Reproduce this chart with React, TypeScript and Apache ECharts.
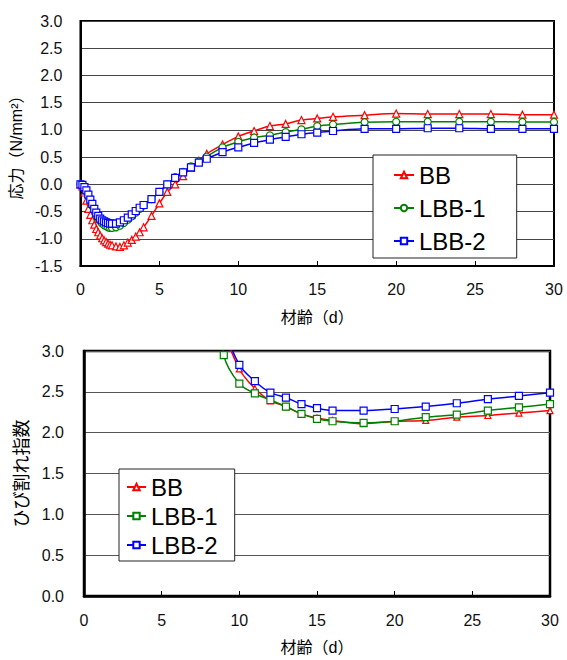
import React, { useEffect, useRef } from "react";
import * as echarts from "echarts";

// ---- Top chart: stress (応力) vs age ----
const ageStress = [
  0, 0.125, 0.25, 0.375, 0.5, 0.625, 0.75, 0.875, 1, 1.125, 1.25, 1.375, 1.5, 1.625, 1.75, 1.875, 2,
  2.25, 2.5, 2.75, 3, 3.25, 3.5, 3.75, 4,
  4.5, 5, 5.5, 6, 6.5, 7, 7.5, 8,
  9, 10, 11, 12, 13, 14, 15, 16,
  18, 20, 22, 24, 26, 28, 30,
];
const bbStress = [
  0, -0.04, -0.15, -0.3, -0.45, -0.56, -0.66, -0.74, -0.82, -0.88, -0.94, -0.99, -1.03, -1.06, -1.09, -1.11, -1.12,
  -1.14, -1.15, -1.12, -1.07, -1.02, -0.96, -0.88, -0.79,
  -0.58, -0.35, -0.14, 0.0, 0.15, 0.3, 0.43, 0.56,
  0.73, 0.88, 0.98, 1.07, 1.11, 1.18, 1.21, 1.24,
  1.27, 1.3, 1.29, 1.29, 1.29, 1.28, 1.28,
];
const lbb1Stress = [
  0, -0.01, -0.06, -0.13, -0.22, -0.31, -0.4, -0.49, -0.57, -0.63, -0.68, -0.72, -0.75, -0.77, -0.79, -0.8, -0.8,
  -0.79, -0.76, -0.71, -0.65, -0.59, -0.52, -0.45, -0.39,
  -0.27, -0.14, 0.0, 0.13, 0.23, 0.33, 0.42, 0.51,
  0.68, 0.78, 0.86, 0.9, 0.96, 1.01, 1.07, 1.1,
  1.14, 1.15, 1.15, 1.15, 1.15, 1.145, 1.145,
];
const lbb2Stress = [
  0, -0.01, -0.05, -0.11, -0.19, -0.28, -0.36, -0.45, -0.52, -0.58, -0.63, -0.66, -0.68, -0.7, -0.71, -0.72, -0.72,
  -0.72, -0.7, -0.66, -0.61, -0.55, -0.49, -0.43, -0.38,
  -0.27, -0.14, 0.0, 0.12, 0.22, 0.31, 0.4, 0.47,
  0.59, 0.68, 0.76, 0.82, 0.87, 0.92, 0.95, 0.98,
  1.02, 1.02, 1.03, 1.03, 1.02, 1.02, 1.02,
];

// ---- Bottom chart: cracking index (ひび割れ指数) vs age ----
const ageCrack = [8, 9, 10, 11, 12, 13, 14, 15, 16, 18, 20, 22, 24, 26, 28, 30];
const bbCrack = [5.5, 3.3, 2.78, 2.54, 2.39, 2.32, 2.23, 2.18, 2.15, 2.11, 2.14, 2.15, 2.19, 2.21, 2.24, 2.27];
const lbb1Crack = [4.5, 2.95, 2.6, 2.48, 2.4, 2.32, 2.23, 2.17, 2.14, 2.12, 2.14, 2.19, 2.22, 2.27, 2.31, 2.35];
const lbb2Crack = [5.5, 3.35, 2.83, 2.63, 2.49, 2.43, 2.35, 2.3, 2.27, 2.27, 2.29, 2.32, 2.36, 2.41, 2.45, 2.49];

const seriesNames = ["BB", "LBB-1", "LBB-2"];
const xTitle = "材齢（d）";
const yTitleTop = "応力（N/mm²）";
const yTitleBottom = "ひび割れ指数";

const FONT = '"Liberation Sans", "Noto Sans CJK JP", sans-serif';
const RED = "#ff0000";
const GREEN = "#008000";
const BLUE = "#0000ff";

function mkSeries(name: string, xs: number[], ys: number[], color: string, symbol: string, size: number) {
  return {
    type: "line",
    name,
    data: xs.map((x, i) => [x, ys[i]]),
    smooth: 0.3,
    symbol,
    symbolSize: size,
    showAllSymbol: true,
    clip: true,
    lineStyle: { color, width: 1.5 },
    itemStyle: { color: "#ffffff", borderColor: color, borderWidth: 1.2 },
    emphasis: { disabled: true },
  };
}

function baseAxes(opts: {
  yMin: number; yMax: number; yName: string; yNameGap: number; yNameSize: number; yLabelMargin: number;
  xLabelMargin: number; xNameGap: number; gridColor: string; axisW: number;
}) {
  return {
    xAxis: {
      type: "value",
      min: 0,
      max: 30,
      interval: 5,
      name: xTitle,
      nameLocation: "middle",
      nameGap: opts.xNameGap,
      nameTextStyle: { fontSize: 16, color: "#000", fontFamily: FONT },
      axisLine: { show: true, onZero: false, lineStyle: { color: "#000", width: opts.axisW } },
      axisTick: { show: true, inside: true, length: 5, lineStyle: { color: "#000", width: 1 } },
      axisLabel: { fontSize: 16, color: "#111", fontFamily: FONT, margin: opts.xLabelMargin },
      splitLine: { show: false },
    },
    yAxis: {
      type: "value",
      min: opts.yMin,
      max: opts.yMax,
      interval: 0.5,
      name: opts.yName,
      nameLocation: "middle",
      nameRotate: 90,
      nameGap: opts.yNameGap,
      nameTextStyle: { fontSize: opts.yNameSize, color: "#000", fontFamily: FONT },
      axisLine: { show: true, onZero: false, lineStyle: { color: "#000", width: opts.axisW } },
      axisTick: { show: false },
      axisLabel: {
        fontSize: 16,
        color: "#111",
        fontFamily: FONT,
        margin: opts.yLabelMargin,
        formatter: (v: number) => v.toFixed(1),
      },
      splitLine: { show: true, lineStyle: { color: opts.gridColor, width: 1 } },
    },
  };
}

const topOption = {
  animation: false,
  backgroundColor: "#ffffff",
  grid: { left: 78, top: 21, width: 476, height: 253, show: true, borderColor: "#000", borderWidth: 2 },
  ...baseAxes({
    yMin: -1.5, yMax: 3, yName: yTitleTop, yNameGap: 45, yNameSize: 16, yLabelMargin: 18,
    xLabelMargin: 15, xNameGap: 43, gridColor: "#444", axisW: 2,
  }),
  legend: {
    orient: "vertical",
    left: 373,
    top: 155,
    padding: [8, 31, 5, 20],
    itemGap: 9,
    itemWidth: 20,
    itemHeight: 8,
    backgroundColor: "#ffffff",
    borderColor: "#222",
    borderWidth: 1,
    textStyle: { fontSize: 24, lineHeight: 24, color: "#000", fontFamily: FONT },
    data: seriesNames,
    selectedMode: false,
  },
  series: [
    mkSeries(seriesNames[0], ageStress, bbStress, RED, "triangle", 7),
    mkSeries(seriesNames[1], ageStress, lbb1Stress, GREEN, "circle", 7),
    mkSeries(seriesNames[2], ageStress, lbb2Stress, BLUE, "rect", 7),
  ],
};

const bottomOption = {
  animation: false,
  backgroundColor: "#ffffff",
  grid: { left: 84, top: 21, width: 466, height: 252, show: true, borderColor: "#000", borderWidth: 2.5 },
  ...baseAxes({
    yMin: 0, yMax: 3, yName: yTitleBottom, yNameGap: 41, yNameSize: 18, yLabelMargin: 20,
    xLabelMargin: 16, xNameGap: 43, gridColor: "#555", axisW: 2.5,
  }),
  legend: {
    orient: "vertical",
    left: 119,
    top: 139,
    padding: [6, 17, 4, 7],
    itemGap: 5,
    itemWidth: 19,
    itemHeight: 8,
    backgroundColor: "#ffffff",
    borderColor: "#222",
    borderWidth: 1,
    textStyle: { fontSize: 24, lineHeight: 24, color: "#000", fontFamily: FONT },
    data: seriesNames,
    selectedMode: false,
  },
  series: [
    mkSeries(seriesNames[0], ageCrack, bbCrack, RED, "triangle", 6),
    mkSeries(seriesNames[1], ageCrack, lbb1Crack, GREEN, "rect", 7),
    mkSeries(seriesNames[2], ageCrack, lbb2Crack, BLUE, "rect", 7),
  ],
};

export default function App() {
  const topRef = useRef<HTMLDivElement>(null);
  const botRef = useRef<HTMLDivElement>(null);
  useEffect(() => {
    const c1 = echarts.init(topRef.current as HTMLDivElement, null, { renderer: "svg" });
    const c2 = echarts.init(botRef.current as HTMLDivElement, null, { renderer: "svg" });
    c1.setOption(topOption as any);
    c2.setOption(bottomOption as any);
    return () => {
      c1.dispose();
      c2.dispose();
    };
  }, []);
  return (
    <div style={{ position: "absolute", left: 0, top: 0, width: 567, height: 660, background: "#fff" }}>
      <div ref={topRef} style={{ width: 567, height: 330 }} />
      <div ref={botRef} style={{ width: 567, height: 330 }} />
    </div>
  );
}
